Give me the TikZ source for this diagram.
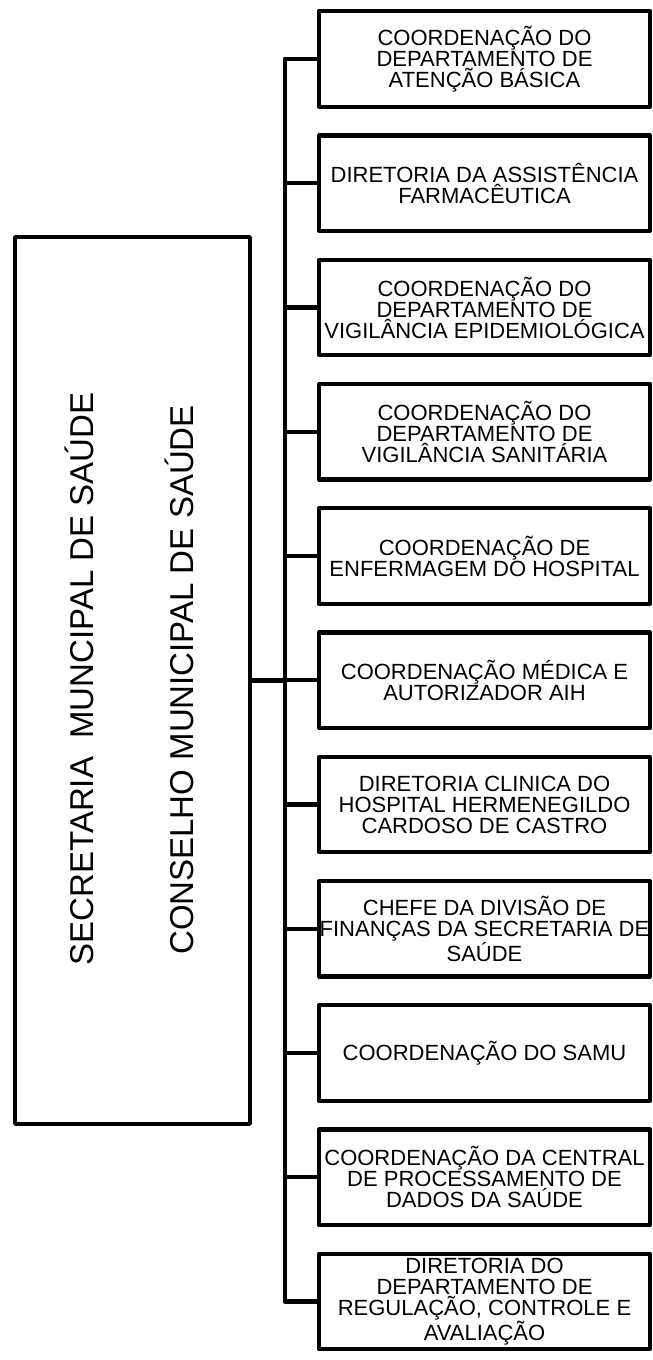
\documentclass[tikz,border=0pt]{standalone}
\usepackage{fontspec}
\setmainfont{Liberation Sans}

\tikzset{
	caixa/.style={draw, minimum width=248pt, minimum height=71.5pt, align=center, inner sep=0pt},
	titulo/.style={rotate=90, anchor=base, font=\fontsize{24.75}{30}\selectfont}
}

\begin{document}
\begin{tikzpicture}[x=0.75pt, y=-0.75pt, line join=round, line width=3.2pt, font=\fontsize{16.5}{15.75}\selectfont]
	
	% Margens da figura (em pixels)
	\useasboundingbox (0,0) rectangle (653,1360);
	
	% Parâmetros: coluna das caixas e passo vertical
	\def\xc{484.5}
	\def\dy{124.25}
	\coordinate (eixo) at (285,0);
	
	% Caixa da secretaria e do conselho
	\node[draw, minimum width=176pt, minimum height=665pt] (orgao) at (132.5,680.5) {};
	\node[titulo] (secretaria) at (93,679) {SECRETARIA\ \ MUNCIPAL DE SAÚDE};
	\node[titulo] (conselho) at (193,680) {CONSELHO MUNICIPAL DE SAÚDE};
	
	% Caixas das coordenações
	\node[caixa] (c1) at (\xc,59) {COORDENAÇÃO DO\\DEPARTAMENTO DE\\ATENÇÃO BÁSICA};
	\node[caixa] (c2) at (\xc,59+\dy) {DIRETORIA DA ASSISTÊNCIA\\FARMACÊUTICA};
	\node[caixa] (c3) at (\xc,59+2*\dy) {COORDENAÇÃO DO\\DEPARTAMENTO DE\\VIGILÂNCIA EPIDEMIOLÓGICA};
	\node[caixa] (c4) at (\xc,59+3*\dy) {COORDENAÇÃO DO\\DEPARTAMENTO DE\\VIGILÂNCIA SANITÁRIA};
	\node[caixa] (c5) at (\xc,59+4*\dy) {COORDENAÇÃO DE\\ENFERMAGEM DO HOSPITAL};
	\node[caixa] (c6) at (\xc,59+5*\dy) {COORDENAÇÃO MÉDICA E\\AUTORIZADOR AIH};
	\node[caixa] (c7) at (\xc,59+6*\dy) {DIRETORIA CLINICA DO\\HOSPITAL HERMENEGILDO\\CARDOSO DE CASTRO};
	\node[caixa] (c8) at (\xc,59+7*\dy) {CHEFE DA DIVISÃO DE\\FINANÇAS DA SECRETARIA DE\\SAÚDE};
	\node[caixa] (c9) at (\xc,59+8*\dy) {COORDENAÇÃO DO SAMU};
	\node[caixa] (c10) at (\xc,59+9*\dy) {COORDENAÇÃO DA CENTRAL\\DE PROCESSAMENTO DE\\DADOS DA SAÚDE};
	\node[caixa] (c11) at (\xc,59+10*\dy) {DIRETORIA DO\\DEPARTAMENTO DE\\REGULAÇÃO, CONTROLE E\\AVALIAÇÃO};
	
	% Linha vertical de ligação
	\draw (c1.west) -- (c1.west -| eixo) -- (c11.west -| eixo) -- (c11.west);
	\foreach \i in {2,...,10}
		\draw (c\i.west) -- (c\i.west -| eixo);
	
	% Ligação da secretaria
	\draw (orgao.east) -- (orgao.east -| eixo);
	
\end{tikzpicture}
\end{document}
